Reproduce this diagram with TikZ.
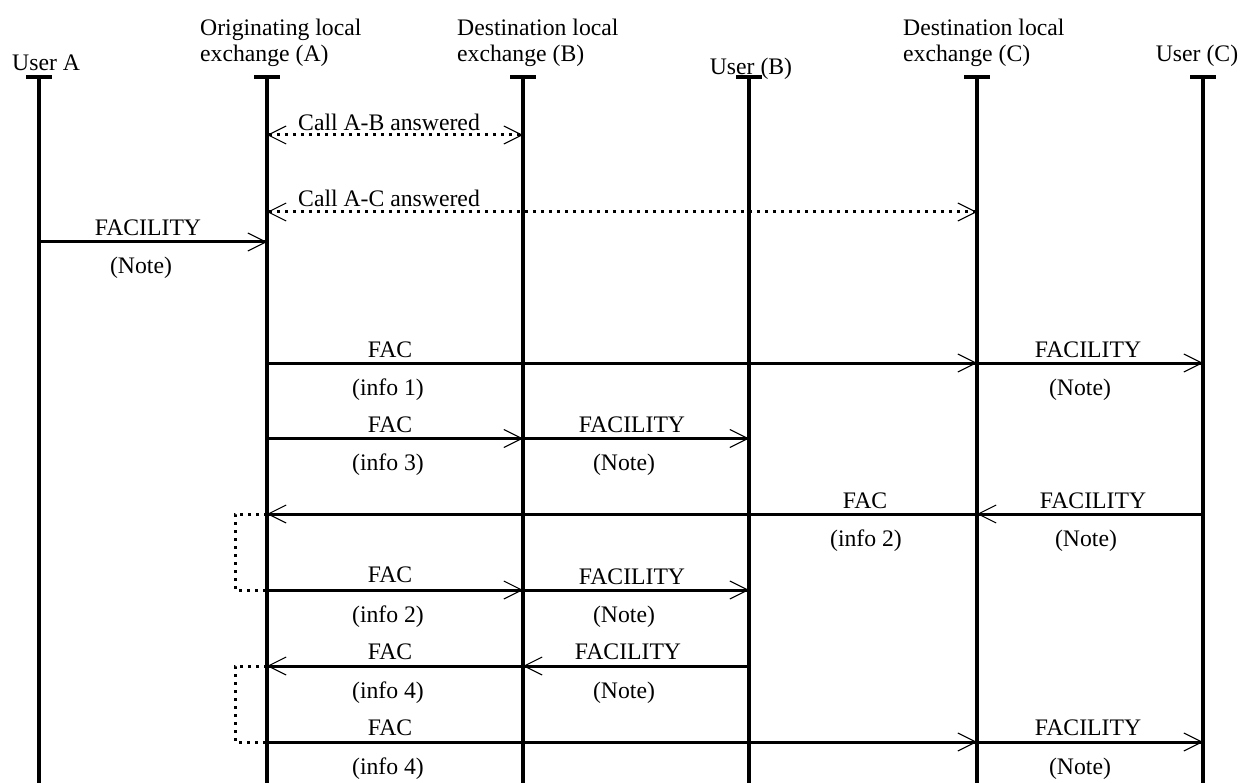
\documentclass[tikz,border=0pt]{standalone}
\usepackage{fontspec}
\setmainfont{Liberation Serif}
\usetikzlibrary{arrows.meta,calc}
\newcommand\dfont{\fontsize{23.7pt}{26pt}\selectfont}
\begin{document}
\begin{tikzpicture}[x=1pt,y=-1pt,
  every node/.style={font=\dfont,inner sep=0pt},
  life/.style={line width=3.3pt},
  tickbar/.style={line width=3.3pt},
  barb/.tip={Straight Barb[length=18pt,width=18pt,line width=1.1pt]},
  msg/.style={line width=3pt,-barb},
  dotmsg/.style={line width=3pt,dash pattern=on 3pt off 5pt,barb-barb},
  brk/.style={line width=3pt,dash pattern=on 3pt off 5pt},
  above lbl/.style={anchor=base},
  below lbl/.style={anchor=base},
  hdr/.style={anchor=north west,align=left}]
\useasboundingbox (0,0) rectangle (1246,783);
\def\T{77}
% lifelines
\coordinate (ua) at (39,\T);
\coordinate (la) at (267,\T);
\coordinate (lb) at (523,\T);
\coordinate (ub) at (749,\T);
\coordinate (lc) at (977,\T);
\coordinate (uc) at (1203,\T);
\foreach \n in {ua,la,lb,ub,lc,uc}{
  \coordinate (\n-end) at ($(\n)+(0,706)$);
  \draw[life] (\n) -- (\n-end);
  \draw[tickbar] ($(\n)+(-13,0)$) -- ($(\n)+(13,0)$);
}
% headers
\node[anchor=base west] (hua) at (12,71) {User A};
\node[hdr] (hla) at (200,18.5) {Originating local\\exchange (A)};
\node[hdr] (hlb) at (457,18.5) {Destination local\\exchange (B)};
\node[anchor=base] (hub) at (751,75) {User (B)};
\node[hdr] (hlc) at (903,18.5) {Destination local\\exchange (C)};
\node[anchor=base] (huc) at (1197,62) {User (C)};
% message rows
\coordinate (r1) at (0,135);
\coordinate (r2) at (0,212);
\coordinate (r3) at (0,242);
\coordinate (r4) at (0,363);
\coordinate (r5) at (0,438.5);
\coordinate (r6) at (0,514);
\coordinate (r7) at (0,590);
\coordinate (r8) at (0,666);
\coordinate (r9) at (0,742);
% call answered
\draw[dotmsg] (la |- r1) -- (lb |- r1);
\node[anchor=base west] (t1) at (298,131) {Call A-B answered};
\draw[dotmsg] (la |- r2) -- (lc |- r2);
\node[anchor=base west] (t2) at (298,207) {Call A-C answered};
% row 3
\draw[msg] (ua |- r3) -- (la |- r3);
\node[above lbl] (m3a) at (148,236) {FACILITY};
\node[below lbl] (m3b) at (141,274) {(Note)};
% row 4
\draw[msg] (la |- r4) -- (lc |- r4);
\draw[msg] (lc |- r4) -- (uc |- r4);
\node[above lbl] (m4a) at (390,357) {FAC};
\node[below lbl] (m4b) at (388,395) {(info 1)};
\node[above lbl] (m4c) at (1088,357) {FACILITY};
\node[below lbl] (m4d) at (1080,395) {(Note)};
% row 5
\draw[msg] (la |- r5) -- (lb |- r5);
\draw[msg] (lb |- r5) -- (ub |- r5);
\node[above lbl] (m5a) at (390,432.5) {FAC};
\node[below lbl] (m5b) at (388,470.5) {(info 3)};
\node[above lbl] (m5c) at (632,432.5) {FACILITY};
\node[below lbl] (m5d) at (624,470.5) {(Note)};
% row 6
\draw[msg] (uc |- r6) -- (lc |- r6);
\draw[msg] (lc |- r6) -- (la |- r6);
\node[above lbl] (m6a) at (865,508) {FAC};
\node[below lbl] (m6b) at (866,546) {(info 2)};
\node[above lbl] (m6c) at (1093,508) {FACILITY};
\node[below lbl] (m6d) at (1086,546) {(Note)};
% row 7
\draw[msg] (la |- r7) -- (lb |- r7);
\draw[msg] (lb |- r7) -- (ub |- r7);
\node[above lbl] (m7a) at (390,582) {FAC};
\node[below lbl] (m7b) at (388,622) {(info 2)};
\node[above lbl] (m7c) at (632,584) {FACILITY};
\node[below lbl] (m7d) at (624,622) {(Note)};
% row 8
\draw[msg] (ub |- r8) -- (lb |- r8);
\draw[msg] (lb |- r8) -- (la |- r8);
\node[above lbl] (m8a) at (390,659) {FAC};
\node[below lbl] (m8b) at (388,698) {(info 4)};
\node[above lbl] (m8c) at (628,659) {FACILITY};
\node[below lbl] (m8d) at (624,698) {(Note)};
% row 9
\draw[msg] (la |- r9) -- (lc |- r9);
\draw[msg] (lc |- r9) -- (uc |- r9);
\node[above lbl] (m9a) at (390,735) {FAC};
\node[below lbl] (m9b) at (388,774) {(info 4)};
\node[above lbl] (m9c) at (1088,735) {FACILITY};
\node[below lbl] (m9d) at (1080,774) {(Note)};
% dotted brackets
\draw[brk] (la |- r6) -- ++(-32,0) |- (la |- r7);
\draw[brk] (la |- r8) -- ++(-32,0) |- (la |- r9);
\end{tikzpicture}
\end{document}
